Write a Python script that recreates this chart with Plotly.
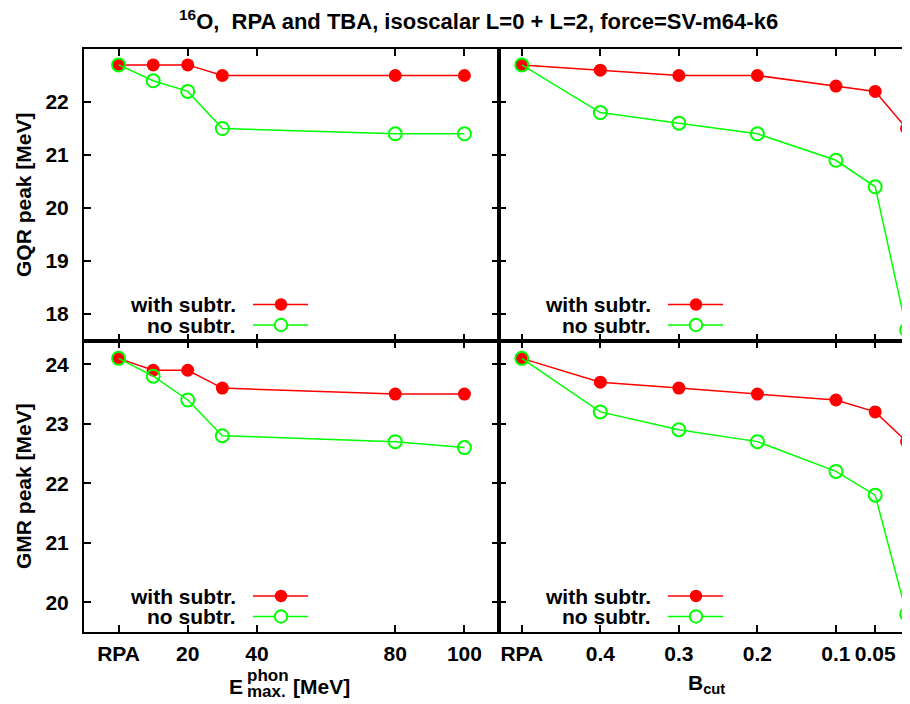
import plotly.graph_objects as go

# ---------------- data ----------------
ephon_x = [0, 10, 20, 30, 80, 100]          # 0 == RPA
ephon_tickvals = [0, 20, 40, 80, 100]
ephon_ticktext = ["RPA", "20", "40", "80", "100"]
gqr_e_with = [22.7, 22.7, 22.7, 22.5, 22.5, 22.5]
gqr_e_no = [22.7, 22.4, 22.2, 21.5, 21.4, 21.4]
gmr_e_with = [24.1, 23.9, 23.9, 23.6, 23.5, 23.5]
gmr_e_no = [24.1, 23.8, 23.4, 22.8, 22.7, 22.6]

bcut_x = [0.5, 0.4, 0.3, 0.2, 0.1, 0.05, 0.01]   # 0.5 == RPA
bcut_tickvals = [0.5, 0.4, 0.3, 0.2, 0.1, 0.05, 0.01]
bcut_ticktext = ["RPA", "0.4", "0.3", "0.2", "0.1", "0.05", ""]
gqr_b_with = [22.7, 22.6, 22.5, 22.5, 22.3, 22.2, 21.5]
gqr_b_no = [22.7, 21.8, 21.6, 21.4, 20.9, 20.4, 17.7]
gmr_b_with = [24.1, 23.7, 23.6, 23.5, 23.4, 23.2, 22.7]
gmr_b_no = [24.1, 23.2, 22.9, 22.7, 22.2, 21.8, 19.8]

gqr_ticks = [18, 19, 20, 21, 22]
gmr_ticks = [20, 21, 22, 23, 24]

series_names = ["with subtr.", "no subtr."]
RED = "#ff0000"
GREEN = "#00ff00"
FONT = "Liberation Sans"
FS = 21

# ---------------- layout geometry ----------------
# page body has an 8px margin, so the figure is 8px smaller and shifted
OFF = 8
W, H = 910 - OFF, 704 - OFF
L = 84 - OFF          # left frame edge (page px 84)
R = 0
T = 49 - OFF          # top frame edge (page px 49)
B = H - (632 - OFF)   # bottom frame edge (page px 632)
pw = W - L - R
ph = H - T - B
xsplit = (499 - 84) / pw

def px(xp):  # page pixel -> paper x
    return (xp - OFF - L) / pw

def py(yp):  # page pixel -> paper y
    return (H - B - (yp - OFF)) / ph

fig = go.Figure()

panels = [
    ("x", "y", ephon_x, gqr_e_with, gqr_e_no),
    ("x2", "y2", bcut_x, gqr_b_with, gqr_b_no),
    ("x3", "y3", ephon_x, gmr_e_with, gmr_e_no),
    ("x4", "y4", bcut_x, gmr_b_with, gmr_b_no),
]
for xa, ya, xs, yw, yn in panels:
    fig.add_trace(go.Scatter(x=xs, y=yw, xaxis=xa, yaxis=ya, mode="lines+markers",
                             line=dict(color=RED, width=1.5),
                             marker=dict(symbol="circle", size=13, color=RED),
                             showlegend=False, name=series_names[0]))
    fig.add_trace(go.Scatter(x=xs, y=yn, xaxis=xa, yaxis=ya, mode="lines+markers",
                             line=dict(color=GREEN, width=1.5),
                             marker=dict(symbol="circle-open", size=13, color=GREEN,
                                         line=dict(width=2, color=GREEN)),
                             showlegend=False, name=series_names[1]))

tickfont = dict(family=FONT, size=FS, color="black", weight="bold")
base = dict(showline=True, linecolor="black", linewidth=2, mirror="ticks",
            ticks="inside", ticklen=7, tickwidth=1.5, tickcolor="black",
            showgrid=False, zeroline=False, tickfont=tickfont)

lay = dict(
    width=W, height=H, margin=dict(l=L, r=R, t=T, b=B, autoexpand=False),
    plot_bgcolor="white", paper_bgcolor="white",
    font=dict(family=FONT, size=FS, color="black"),
    showlegend=False,
)
xl = dict(domain=[0, xsplit], range=[-10, 110], tickvals=ephon_tickvals, ticktext=ephon_ticktext)
xr = dict(domain=[xsplit, 1], range=[0.529, 0.0057], tickvals=bcut_tickvals, ticktext=bcut_ticktext)
lay["xaxis"] = dict(base, **xl, anchor="y", showticklabels=False)
lay["xaxis2"] = dict(base, **xr, anchor="y2", showticklabels=False)
lay["xaxis3"] = dict(base, **xl, anchor="y3", ticklabelstandoff=2)
lay["xaxis4"] = dict(base, **xr, anchor="y4", ticklabelstandoff=2)
lay["yaxis"] = dict(base, domain=[0.5, 1], range=[17.5, 23], tickvals=gqr_ticks, anchor="x", ticklabelstandoff=9)
lay["yaxis2"] = dict(base, domain=[0.5, 1], range=[17.5, 23], tickvals=gqr_ticks, anchor="x2", showticklabels=False)
lay["yaxis3"] = dict(base, domain=[0, 0.5], range=[19.5, 24.4], tickvals=gmr_ticks, anchor="x3", ticklabelstandoff=9)
lay["yaxis4"] = dict(base, domain=[0, 0.5], range=[19.5, 24.4], tickvals=gmr_ticks, anchor="x4", showticklabels=False)
fig.update_layout(**lay)

bold = dict(family=FONT, size=FS, color="black", weight="bold")
titlefont = dict(family=FONT, size=22, color="black", weight="bold")
small = dict(family=FONT, size=17, color="black", weight="bold")
ann = []
# title
ann.append(dict(text="<sup>16</sup>O,  RPA and TBA, isoscalar L=0 + L=2, force=SV-m64-k6",
                x=px(478), y=py(20), xref="paper", yref="paper", showarrow=False,
                xanchor="center", yanchor="middle", font=titlefont))
# y titles
ann.append(dict(text="GQR peak [MeV]", x=px(23), y=py(195), xref="paper", yref="paper",
                showarrow=False, textangle=-90, xanchor="center", yanchor="middle", font=bold))
ann.append(dict(text="GMR peak [MeV]", x=px(23), y=py(486), xref="paper", yref="paper",
                showarrow=False, textangle=-90, xanchor="center", yanchor="middle", font=bold))
# x title left: E^phon_max. [MeV] (stacked)
ann.append(dict(text="E", x=px(245), y=py(686), xref="paper", yref="paper", showarrow=False,
                xanchor="right", yanchor="middle", font=bold))
ann.append(dict(text="phon", x=px(245), y=py(675), xref="paper", yref="paper", showarrow=False,
                xanchor="left", yanchor="middle", font=small))
ann.append(dict(text="max.", x=px(245), y=py(691), xref="paper", yref="paper", showarrow=False,
                xanchor="left", yanchor="middle", font=small))
ann.append(dict(text="[MeV]", x=px(291), y=py(686), xref="paper", yref="paper", showarrow=False,
                xanchor="left", yanchor="middle", font=bold))
# x title right
ann.append(dict(text="B<sub>cut</sub>", x=px(706), y=py(684), xref="paper", yref="paper",
                showarrow=False, xanchor="center", yanchor="middle", font=bold))

shapes = []
panel_w = {"x": 499 - 84, "x2": 910 - 499, "x3": 499 - 84, "x4": 910 - 499}
panel_h = ph / 2
for xa, ya, *_ in panels:
    xr_ = xa + " domain"
    yr_ = ya + " domain"
    pwi = panel_w[xa]
    for i, (name, col) in enumerate(zip(series_names, [RED, GREEN])):
        yy = (36 if i == 0 else 15.5) / panel_h
        ann.append(dict(text=name, x=154 / pwi, y=yy, xref=xr_, yref=yr_, showarrow=False,
                        xanchor="right", yanchor="middle", font=bold))
        shapes.append(dict(type="line", xref=xr_, yref=yr_, x0=169 / pwi, x1=224 / pwi,
                           y0=yy, y1=yy, line=dict(color=col, width=1.5)))
        rx = 6.2 / pwi
        ry = 6.2 / panel_h
        if i == 0:
            shapes.append(dict(type="circle", xref=xr_, yref=yr_, x0=197 / pwi - rx, x1=197 / pwi + rx,
                               y0=yy - ry, y1=yy + ry, fillcolor=col, line=dict(width=0)))
        else:
            shapes.append(dict(type="circle", xref=xr_, yref=yr_, x0=197 / pwi - rx, x1=197 / pwi + rx,
                               y0=yy - ry, y1=yy + ry, fillcolor="white", line=dict(color=col, width=2)))

fig.update_layout(annotations=ann, shapes=shapes)
fig.write_html("out.html")
